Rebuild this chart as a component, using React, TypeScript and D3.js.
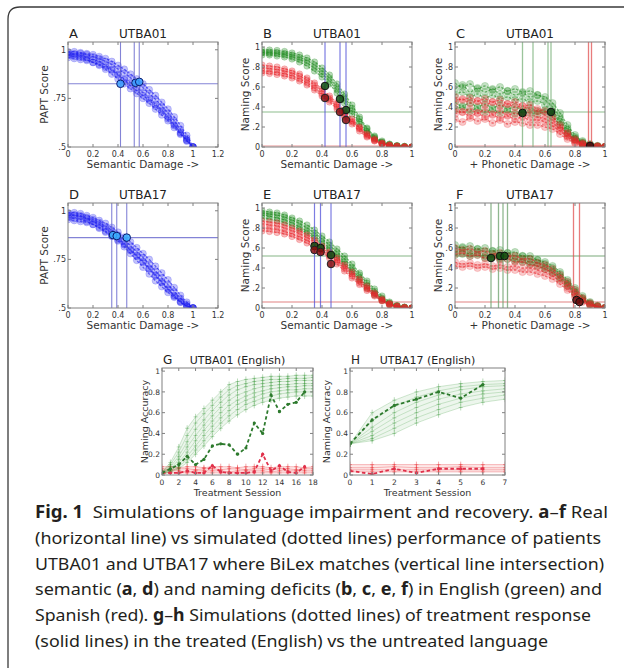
import * as d3 from "d3";
import React from "react";

// ---------- data ----------
const damage = [0, 0.05, 0.1, 0.15, 0.2, 0.25, 0.3, 0.35, 0.4, 0.45, 0.5, 0.55, 0.6, 0.65, 0.7, 0.75, 0.8, 0.85, 0.9, 0.95, 1];

// A: UTBA01 PAPT (simulated)
const paptA = [
  [0.99, 0.99, 0.985, 0.98, 0.975, 0.965, 0.955, 0.94, 0.92, 0.9, 0.875, 0.85, 0.825, 0.795, 0.765, 0.73, 0.695, 0.655, 0.61, 0.56, 0.5],
  [0.985, 0.98, 0.98, 0.975, 0.965, 0.955, 0.94, 0.925, 0.9, 0.88, 0.855, 0.83, 0.805, 0.775, 0.745, 0.71, 0.675, 0.635, 0.59, 0.545, 0.5],
  [0.975, 0.975, 0.97, 0.96, 0.95, 0.94, 0.92, 0.9, 0.875, 0.85, 0.83, 0.805, 0.78, 0.75, 0.72, 0.69, 0.655, 0.615, 0.575, 0.535, 0.5],
  [0.97, 0.965, 0.96, 0.95, 0.935, 0.92, 0.9, 0.875, 0.85, 0.825, 0.8, 0.775, 0.75, 0.725, 0.695, 0.665, 0.635, 0.6, 0.565, 0.53, 0.5],
  [0.96, 0.955, 0.95, 0.945, 0.935, 0.925, 0.91, 0.895, 0.87, 0.845, 0.815, 0.79, 0.765, 0.74, 0.71, 0.68, 0.645, 0.61, 0.57, 0.535, 0.5],
];
// D: UTBA17 PAPT (simulated)
const paptD = [
  [0.99, 0.99, 0.985, 0.975, 0.965, 0.95, 0.935, 0.915, 0.89, 0.865, 0.84, 0.81, 0.78, 0.75, 0.715, 0.68, 0.645, 0.605, 0.565, 0.53, 0.5],
  [0.985, 0.98, 0.975, 0.965, 0.955, 0.94, 0.92, 0.9, 0.875, 0.85, 0.82, 0.79, 0.76, 0.725, 0.69, 0.655, 0.62, 0.585, 0.55, 0.52, 0.5],
  [0.975, 0.975, 0.97, 0.96, 0.945, 0.93, 0.91, 0.885, 0.86, 0.83, 0.8, 0.77, 0.74, 0.705, 0.67, 0.635, 0.6, 0.565, 0.535, 0.51, 0.5],
  [0.965, 0.96, 0.955, 0.945, 0.93, 0.915, 0.895, 0.87, 0.845, 0.815, 0.78, 0.745, 0.71, 0.675, 0.64, 0.61, 0.58, 0.555, 0.53, 0.51, 0.5],
  [0.955, 0.95, 0.945, 0.94, 0.93, 0.91, 0.89, 0.87, 0.85, 0.825, 0.795, 0.765, 0.735, 0.7, 0.665, 0.63, 0.595, 0.56, 0.53, 0.51, 0.5],
];
// B: UTBA01 naming vs semantic damage
const namingBEng = [
  [0.97, 0.97, 0.965, 0.955, 0.94, 0.92, 0.89, 0.85, 0.79, 0.72, 0.63, 0.53, 0.42, 0.3, 0.19, 0.11, 0.06, 0.03, 0.015, 0.005, 0],
  [0.95, 0.95, 0.945, 0.935, 0.92, 0.895, 0.865, 0.82, 0.76, 0.69, 0.6, 0.5, 0.39, 0.28, 0.18, 0.1, 0.05, 0.025, 0.01, 0.005, 0],
  [0.94, 0.935, 0.93, 0.92, 0.9, 0.875, 0.84, 0.79, 0.73, 0.66, 0.57, 0.47, 0.36, 0.25, 0.16, 0.09, 0.045, 0.02, 0.01, 0.005, 0],
  [0.92, 0.92, 0.91, 0.9, 0.88, 0.85, 0.81, 0.76, 0.7, 0.63, 0.54, 0.44, 0.33, 0.23, 0.14, 0.08, 0.04, 0.02, 0.01, 0, 0],
];
const namingBSpa = [
  [0.82, 0.81, 0.8, 0.78, 0.76, 0.73, 0.69, 0.64, 0.58, 0.51, 0.44, 0.36, 0.28, 0.2, 0.13, 0.08, 0.04, 0.02, 0.01, 0, 0],
  [0.79, 0.785, 0.775, 0.76, 0.74, 0.71, 0.67, 0.62, 0.56, 0.49, 0.42, 0.34, 0.26, 0.19, 0.12, 0.07, 0.035, 0.015, 0.005, 0, 0],
  [0.76, 0.755, 0.745, 0.73, 0.71, 0.68, 0.64, 0.59, 0.53, 0.47, 0.4, 0.32, 0.25, 0.18, 0.11, 0.065, 0.03, 0.015, 0.005, 0, 0],
  [0.74, 0.735, 0.725, 0.71, 0.69, 0.66, 0.62, 0.57, 0.51, 0.45, 0.38, 0.3, 0.23, 0.16, 0.1, 0.06, 0.03, 0.01, 0, 0, 0],
];
// E: UTBA17 naming vs semantic damage
const namingEEng = [
  [0.97, 0.96, 0.95, 0.93, 0.9, 0.87, 0.83, 0.78, 0.72, 0.66, 0.59, 0.52, 0.44, 0.35, 0.27, 0.19, 0.12, 0.06, 0.025, 0.01, 0],
  [0.95, 0.94, 0.93, 0.91, 0.88, 0.845, 0.8, 0.75, 0.69, 0.63, 0.56, 0.49, 0.41, 0.33, 0.25, 0.17, 0.1, 0.05, 0.02, 0.005, 0],
  [0.93, 0.92, 0.9, 0.88, 0.85, 0.81, 0.77, 0.72, 0.66, 0.6, 0.53, 0.46, 0.38, 0.3, 0.22, 0.15, 0.09, 0.045, 0.02, 0.005, 0],
  [0.9, 0.89, 0.875, 0.855, 0.825, 0.79, 0.75, 0.7, 0.64, 0.58, 0.51, 0.44, 0.36, 0.28, 0.2, 0.13, 0.075, 0.035, 0.015, 0.005, 0],
];
const namingESpa = [
  [0.87, 0.86, 0.85, 0.83, 0.8, 0.77, 0.73, 0.68, 0.62, 0.56, 0.5, 0.43, 0.36, 0.29, 0.22, 0.15, 0.09, 0.045, 0.02, 0.005, 0],
  [0.84, 0.83, 0.82, 0.8, 0.775, 0.745, 0.705, 0.66, 0.6, 0.54, 0.48, 0.41, 0.34, 0.27, 0.2, 0.14, 0.08, 0.04, 0.015, 0.005, 0],
  [0.8, 0.795, 0.785, 0.765, 0.74, 0.71, 0.675, 0.63, 0.58, 0.52, 0.46, 0.39, 0.32, 0.25, 0.19, 0.13, 0.075, 0.035, 0.015, 0, 0],
  [0.77, 0.765, 0.755, 0.74, 0.715, 0.685, 0.65, 0.61, 0.56, 0.5, 0.44, 0.37, 0.3, 0.235, 0.175, 0.12, 0.07, 0.03, 0.01, 0, 0],
];
// C: UTBA01 naming vs phonetic damage
const phonCEng = [
  [0.64, 0.6, 0.63, 0.58, 0.61, 0.57, 0.6, 0.56, 0.58, 0.55, 0.56, 0.52, 0.5, 0.44, 0.34, 0.22, 0.12, 0.06, 0.03, 0.01, 0],
  [0.58, 0.62, 0.55, 0.59, 0.55, 0.58, 0.53, 0.56, 0.52, 0.54, 0.5, 0.52, 0.47, 0.4, 0.3, 0.19, 0.1, 0.05, 0.02, 0.01, 0],
  [0.52, 0.55, 0.5, 0.53, 0.49, 0.52, 0.48, 0.5, 0.47, 0.48, 0.45, 0.46, 0.42, 0.36, 0.27, 0.17, 0.09, 0.04, 0.02, 0.005, 0],
  [0.45, 0.41, 0.44, 0.4, 0.43, 0.39, 0.42, 0.38, 0.4, 0.37, 0.39, 0.36, 0.37, 0.33, 0.25, 0.15, 0.08, 0.04, 0.02, 0.005, 0],
  [0.38, 0.4, 0.36, 0.39, 0.35, 0.38, 0.34, 0.37, 0.33, 0.35, 0.34, 0.33, 0.35, 0.3, 0.22, 0.13, 0.07, 0.03, 0.01, 0, 0],
];
const phonCSpa = [
  [0.5, 0.47, 0.49, 0.46, 0.48, 0.45, 0.47, 0.43, 0.45, 0.41, 0.42, 0.38, 0.36, 0.3, 0.22, 0.14, 0.08, 0.04, 0.02, 0.01, 0],
  [0.45, 0.48, 0.44, 0.46, 0.42, 0.45, 0.41, 0.43, 0.4, 0.41, 0.37, 0.36, 0.32, 0.27, 0.2, 0.13, 0.07, 0.03, 0.015, 0.005, 0],
  [0.38, 0.35, 0.38, 0.34, 0.37, 0.33, 0.36, 0.32, 0.34, 0.31, 0.32, 0.3, 0.28, 0.24, 0.18, 0.11, 0.06, 0.03, 0.01, 0, 0],
  [0.33, 0.35, 0.31, 0.34, 0.3, 0.32, 0.29, 0.31, 0.28, 0.3, 0.27, 0.27, 0.25, 0.21, 0.16, 0.1, 0.05, 0.025, 0.01, 0, 0],
  [0.28, 0.25, 0.29, 0.26, 0.28, 0.24, 0.27, 0.23, 0.25, 0.24, 0.22, 0.22, 0.2, 0.18, 0.13, 0.08, 0.04, 0.02, 0.01, 0, 0],
];
// F: UTBA17 naming vs phonetic damage
const phonFEng = [
  [0.63, 0.6, 0.62, 0.59, 0.6, 0.57, 0.58, 0.55, 0.56, 0.52, 0.52, 0.48, 0.46, 0.42, 0.36, 0.28, 0.2, 0.12, 0.06, 0.02, 0],
  [0.59, 0.61, 0.57, 0.59, 0.56, 0.57, 0.54, 0.55, 0.52, 0.52, 0.49, 0.48, 0.44, 0.4, 0.34, 0.26, 0.18, 0.1, 0.05, 0.02, 0],
  [0.56, 0.57, 0.54, 0.55, 0.52, 0.54, 0.5, 0.52, 0.49, 0.48, 0.46, 0.45, 0.41, 0.37, 0.31, 0.24, 0.16, 0.09, 0.04, 0.015, 0],
  [0.53, 0.54, 0.52, 0.53, 0.5, 0.51, 0.49, 0.49, 0.47, 0.46, 0.44, 0.42, 0.39, 0.35, 0.29, 0.22, 0.14, 0.08, 0.04, 0.01, 0],
];
const phonFSpa = [
  [0.6, 0.58, 0.59, 0.56, 0.57, 0.54, 0.55, 0.52, 0.52, 0.49, 0.49, 0.45, 0.43, 0.39, 0.33, 0.26, 0.18, 0.1, 0.05, 0.02, 0],
  [0.54, 0.55, 0.52, 0.53, 0.5, 0.51, 0.48, 0.49, 0.46, 0.46, 0.43, 0.42, 0.39, 0.35, 0.3, 0.23, 0.15, 0.09, 0.04, 0.01, 0],
  [0.46, 0.44, 0.45, 0.43, 0.44, 0.42, 0.43, 0.41, 0.42, 0.4, 0.4, 0.38, 0.36, 0.32, 0.27, 0.2, 0.13, 0.07, 0.03, 0.01, 0],
  [0.42, 0.41, 0.42, 0.4, 0.41, 0.39, 0.4, 0.38, 0.38, 0.36, 0.36, 0.34, 0.32, 0.29, 0.24, 0.18, 0.11, 0.06, 0.03, 0.01, 0],
];

// patient levels (horizontal) and matching damage levels (vertical)
const realA = 0.825;
const matchA = [0.42, 0.53, 0.57];
const hitsA = [[0.42, 0.825], [0.54, 0.83], [0.57, 0.835]];
const realD = 0.862;
const matchD = [0.35, 0.39, 0.47];
const hitsD = [[0.36, 0.875], [0.39, 0.87], [0.47, 0.862]];

const realBEng = 0.35, realBSpa = 0.01;
const matchB = [0.42, 0.52, 0.56];
const hitsBEng = [[0.42, 0.61], [0.52, 0.48], [0.56, 0.37]];
const hitsBSpa = [[0.42, 0.49], [0.52, 0.35], [0.56, 0.27]];

const realEEng = 0.52, realESpa = 0.06;
const matchE = [0.35, 0.39, 0.46];
const hitsEEng = [[0.35, 0.62], [0.39, 0.6], [0.46, 0.53]];
const hitsESpa = [[0.35, 0.58], [0.39, 0.56], [0.46, 0.44]];

const realCEng = 0.35, realCSpa = 0.01;
const matchCEng = [0.45, 0.52, 0.62, 0.64];
const matchCSpa = [0.89, 0.91];
const hitsCEng = [[0.45, 0.34], [0.64, 0.35]];
const hitsCSpa = [[0.9, 0.01]];

const realFEng = 0.52, realFSpa = 0.06;
const matchFEng = [0.24, 0.29, 0.32, 0.35];
const matchFSpa = [0.79, 0.83];
const hitsFEng = [[0.24, 0.5], [0.3, 0.52], [0.33, 0.52]];
const hitsFSpa = [[0.81, 0.08], [0.83, 0.06]];

// G: UTBA01 treatment
const sessionsG = [0, 1, 2, 3, 4, 5, 6, 7, 8, 9, 10, 11, 12, 13, 14, 15, 16, 17, 18];
const simGEng = [
  [0.03, 0.12, 0.27, 0.45, 0.56, 0.64, 0.72, 0.8, 0.87, 0.9, 0.92, 0.93, 0.94, 0.95, 0.95, 0.95, 0.96, 0.96, 0.96],
  [0.03, 0.1, 0.22, 0.38, 0.5, 0.59, 0.67, 0.75, 0.82, 0.86, 0.88, 0.9, 0.91, 0.92, 0.92, 0.93, 0.93, 0.93, 0.94],
  [0.02, 0.08, 0.18, 0.32, 0.44, 0.53, 0.62, 0.7, 0.77, 0.82, 0.85, 0.87, 0.88, 0.89, 0.9, 0.9, 0.91, 0.91, 0.91],
  [0.02, 0.06, 0.15, 0.27, 0.38, 0.48, 0.57, 0.65, 0.72, 0.77, 0.8, 0.83, 0.85, 0.86, 0.87, 0.87, 0.88, 0.88, 0.88],
  [0.02, 0.05, 0.12, 0.22, 0.33, 0.43, 0.52, 0.6, 0.67, 0.72, 0.76, 0.79, 0.81, 0.83, 0.84, 0.85, 0.85, 0.86, 0.86],
  [0.02, 0.04, 0.1, 0.18, 0.28, 0.38, 0.47, 0.55, 0.62, 0.68, 0.72, 0.75, 0.78, 0.8, 0.81, 0.82, 0.82, 0.83, 0.83],
  [0.01, 0.03, 0.08, 0.15, 0.24, 0.33, 0.42, 0.5, 0.57, 0.63, 0.68, 0.71, 0.74, 0.76, 0.78, 0.79, 0.8, 0.8, 0.8],
  [0.01, 0.03, 0.06, 0.12, 0.2, 0.28, 0.37, 0.45, 0.52, 0.58, 0.63, 0.67, 0.7, 0.72, 0.74, 0.75, 0.76, 0.76, 0.76],
];
const simGSpa = [
  [0.08, 0.08, 0.07, 0.08, 0.08, 0.07, 0.08, 0.08, 0.08, 0.07, 0.08, 0.08, 0.08, 0.07, 0.08, 0.08, 0.08, 0.07, 0.08],
  [0.06, 0.05, 0.06, 0.06, 0.05, 0.06, 0.06, 0.05, 0.06, 0.06, 0.05, 0.06, 0.06, 0.05, 0.06, 0.06, 0.05, 0.06, 0.06],
  [0.04, 0.04, 0.04, 0.03, 0.04, 0.04, 0.04, 0.04, 0.03, 0.04, 0.04, 0.04, 0.04, 0.03, 0.04, 0.04, 0.04, 0.04, 0.04],
  [0.02, 0.02, 0.02, 0.02, 0.02, 0.02, 0.02, 0.02, 0.02, 0.02, 0.02, 0.02, 0.02, 0.02, 0.02, 0.02, 0.02, 0.02, 0.02],
];
const patientGEng = [0.02, 0.06, 0.1, 0.18, 0.1, 0.15, 0.28, 0.3, 0.29, 0.2, 0.26, 0.5, 0.4, 0.77, 0.61, 0.68, 0.7, 0.8];
const patientGSpa = [0.02, 0.02, 0.02, 0.04, 0.02, 0.02, 0.09, 0.03, 0.02, 0.02, 0.02, 0.03, 0.2, 0.04, 0.09, 0.03, 0.02, 0.08];

// H: UTBA17 treatment
const sessionsH = [0, 1, 2, 3, 4, 5, 6, 7];
const simHEng = [
  [0.3, 0.6, 0.72, 0.8, 0.85, 0.88, 0.9, 0.91],
  [0.3, 0.52, 0.66, 0.75, 0.81, 0.85, 0.87, 0.88],
  [0.3, 0.46, 0.6, 0.7, 0.77, 0.82, 0.85, 0.86],
  [0.3, 0.42, 0.55, 0.65, 0.73, 0.78, 0.81, 0.83],
  [0.3, 0.38, 0.5, 0.6, 0.68, 0.74, 0.78, 0.8],
  [0.3, 0.35, 0.45, 0.55, 0.63, 0.7, 0.74, 0.77],
  [0.3, 0.33, 0.4, 0.5, 0.58, 0.65, 0.7, 0.73],
];
const simHSpa = [
  [0.1, 0.1, 0.1, 0.1, 0.1, 0.1, 0.1, 0.1],
  [0.07, 0.07, 0.08, 0.07, 0.07, 0.08, 0.07, 0.07],
  [0.05, 0.05, 0.05, 0.05, 0.05, 0.05, 0.05, 0.05],
  [0.03, 0.03, 0.03, 0.03, 0.03, 0.03, 0.03, 0.03],
];
const patientHEng = [0.3, 0.53, 0.67, 0.73, 0.8, 0.74, 0.87];
const patientHSpa = [0.04, 0.01, 0.06, 0.02, 0.06, 0.06, 0.06];

const ticksA = [0, 0.2, 0.4, 0.6, 0.8, 1, 1.2];
const ticksB = [0, 0.2, 0.4, 0.6, 0.8, 1];
const paptTicks = [0.5, 0.75, 1];
const paptLabels = [".5", ".75", "1"];
const namingTicks = [0, 0.2, 0.4, 0.6, 0.8, 1];
const namingLabels = ["0", ".2", ".4", ".6", ".8", "1"];
const accTicks = [0, 0.2, 0.4, 0.6, 0.8, 1];
const accLabels = ["0", "0.2", "0.4", "0.6", "0.8", "1"];
const ticksG = [0, 2, 4, 6, 8, 10, 12, 14, 16, 18];
const ticksH = [0, 1, 2, 3, 4, 5, 6, 7];

const captionLines: [string, boolean][][] = [
  [["Fig. 1", true], ["  Simulations of language impairment and recovery. ", false], ["a", true], ["–", false], ["f", true], [" Real", false]],
  [["(horizontal line) vs simulated (dotted lines) performance of patients", false]],
  [["UTBA01 and UTBA17 where BiLex matches (vertical line intersection)", false]],
  [["semantic (", false], ["a", true], [", ", false], ["d", true], [") and naming deficits (", false], ["b", true], [", ", false], ["c", true], [", ", false], ["e", true], [", ", false], ["f", true], [") in English (green) and", false]],
  [["Spanish (red). ", false], ["g", true], ["–", false], ["h", true], [" Simulations (dotted lines) of treatment response", false]],
  [["(solid lines) in the treated (English) vs the untreated language", false]],
];
const captionWidths = [573, 566, 569, 567, 556, 513];

// ---------- drawing ----------
const FONT = "DejaVu Sans, sans-serif";
const BLUE = "#1c1cf0";
const GREEN = "#1f8a1f";
const RED = "#e8262b";
const AXIS = "#808080";

type Scale = d3.ScaleLinear<number, number>;

interface AxesProps {
  id: string;
  left: number;
  top: number;
  width: number;
  height: number;
  xDomain: [number, number];
  yDomain: [number, number];
  xTicks: number[];
  xFmt: (v: number) => string;
  yTicks: number[];
  yLabels: string[];
  letter: string;
  title: string;
  xLabel: string;
  yLabel: string;
  yLabelGap: number;
  tickFont?: number;
  labelFont?: number;
  titleFont?: number;
  children: (x: Scale, y: Scale) => React.ReactNode;
}

function Axes(p: AxesProps) {
  const x = d3.scaleLinear().domain(p.xDomain).range([p.left, p.left + p.width]);
  const y = d3.scaleLinear().domain(p.yDomain).range([p.top + p.height, p.top]);
  const tf = p.tickFont ?? 8;
  const lf = p.labelFont ?? 10.5;
  const ttf = p.titleFont ?? 12;
  const bottom = p.top + p.height;
  const right = p.left + p.width;
  const tl = 3;
  const midY = p.top + p.height / 2;
  return (
    <g fontFamily={FONT}>
      <clipPath id={p.id}>
        <rect x={p.left} y={p.top} width={p.width} height={p.height} />
      </clipPath>
      <g clipPath={`url(#${p.id})`}>{p.children(x, y)}</g>
      <rect x={p.left} y={p.top} width={p.width} height={p.height} fill="none" stroke={AXIS} strokeWidth={1} />
      {p.xTicks.map((t) => (
        <g key={"x" + t}>
          <line x1={x(t)} x2={x(t)} y1={bottom} y2={bottom - tl} stroke={AXIS} />
          <line x1={x(t)} x2={x(t)} y1={p.top} y2={p.top + tl} stroke={AXIS} />
          <text x={x(t)} y={bottom + tf + 2} fontSize={tf} textAnchor="middle" fill="#333">
            {p.xFmt(t)}
          </text>
        </g>
      ))}
      {p.yTicks.map((t, i) => (
        <g key={"y" + t}>
          <line x1={p.left} x2={p.left + tl} y1={y(t)} y2={y(t)} stroke={AXIS} />
          <line x1={right} x2={right - tl} y1={y(t)} y2={y(t)} stroke={AXIS} />
          <text x={p.left - 2} y={y(t)} dy="0.35em" fontSize={tf} textAnchor="end" fill="#333">
            {p.yLabels[i]}
          </text>
        </g>
      ))}
      <text x={p.left + 1} y={p.top - 4} fontSize={ttf + 1} fill="#222">
        {p.letter}
      </text>
      <text x={(p.left + right) / 2} y={p.top - 4} fontSize={ttf} textAnchor="middle" fill="#222">
        {p.title}
      </text>
      <text x={(p.left + right) / 2} y={bottom + 21} fontSize={lf} textAnchor="middle" fill="#333">
        {p.xLabel}
      </text>
      <text
        transform={`translate(${p.left - p.yLabelGap},${midY}) rotate(-90)`}
        fontSize={lf}
        textAnchor="middle"
        dy="0.35em"
        fill="#333"
      >
        {p.yLabel}
      </text>
    </g>
  );
}

function Cloud({ rows, xs, x, y, color, r, op }: { rows: number[][]; xs: number[]; x: Scale; y: Scale; color: string; r: number; op: number }) {
  const line = d3
    .line<number>()
    .x((_, i) => x(xs[i]))
    .y((d) => y(d))
    .curve(d3.curveMonotoneX);
  return (
    <g>
      {rows.map((row, k) => (
        <g key={k}>
          <path d={line(row) ?? ""} fill="none" stroke={color} strokeOpacity={0.6} strokeWidth={1.3} strokeDasharray="2.5 1.5" />
          {row.map((v, i) => (
            <circle
              key={i}
              cx={x(xs[i])}
              cy={y(v)}
              r={r}
              fill={color}
              fillOpacity={op}
              stroke={color}
              strokeOpacity={op * 1.3}
              strokeWidth={0.6}
            />
          ))}
        </g>
      ))}
    </g>
  );
}

function Guides({ vs, h, x, y, color, width = 1.1, op = 0.75 }: { vs: number[]; h: number | null; x: Scale; y: Scale; color: string; width?: number; op?: number }) {
  const [y0, y1] = y.range();
  const [x0, x1] = x.range();
  return (
    <g stroke={color} strokeWidth={width} strokeOpacity={op}>
      {vs.map((v, i) => (
        <line key={i} x1={x(v)} x2={x(v)} y1={y0} y2={y1} />
      ))}
      {h !== null && <line x1={x0} x2={x1} y1={y(h)} y2={y(h)} />}
    </g>
  );
}

function Hits({ pts, x, y, fill, stroke }: { pts: number[][]; x: Scale; y: Scale; fill: string; stroke: string }) {
  return (
    <g>
      {pts.map((p, i) => (
        <circle key={i} cx={x(p[0])} cy={y(p[1])} r={3.8} fill={fill} fillOpacity={0.85} stroke={stroke} strokeWidth={1} />
      ))}
    </g>
  );
}

function Sims({ rows, xs, x, y, color, op, shade }: { rows: number[][]; xs: number[]; x: Scale; y: Scale; color: string; op: number; shade: number }) {
  const line = d3
    .line<number>()
    .x((_, i) => x(xs[i]))
    .y((d) => y(d));
  const top = rows[0];
  const low = rows[rows.length - 1];
  const area = d3
    .area<number>()
    .x((_, i) => x(xs[i]))
    .y0((_, i) => y(low[i]))
    .y1((d) => y(d));
  return (
    <g>
      <path d={area(top) ?? ""} fill={color} fillOpacity={shade} />
      {rows.map((row, k) => (
        <g key={k}>
          <path d={line(row) ?? ""} fill="none" stroke={color} strokeOpacity={op} strokeWidth={1} />
          {row.map((v, i) => (
            <path
              key={i}
              d={`M${x(xs[i]) - 2},${y(v)}H${x(xs[i]) + 2}M${x(xs[i])},${y(v) - 3}V${y(v) + 3}`}
              stroke={color}
              strokeOpacity={op + 0.15}
              strokeWidth={0.9}
            />
          ))}
        </g>
      ))}
    </g>
  );
}

function Patient({ vals, xs, x, y, color }: { vals: number[]; xs: number[]; x: Scale; y: Scale; color: string }) {
  const line = d3
    .line<number>()
    .x((_, i) => x(xs[i]))
    .y((d) => y(d));
  return (
    <g>
      <path d={line(vals) ?? ""} fill="none" stroke={color} strokeWidth={1.8} strokeDasharray="3.5 2.5" />
      {vals.map((v, i) => (
        <circle key={i} cx={x(xs[i])} cy={y(v)} r={1.6} fill={color} />
      ))}
    </g>
  );
}

const fmtDec = (v: number) => (v === 0 ? "0" : v === 1 ? "1" : d3.format(".1f")(v));
const fmtInt = (v: number) => String(v);

export default function App() {
  const top1 = 42;
  const top2 = 203;
  const w = 150;
  const h = 105;
  const cols = [68, 262, 455];
  return (
    <svg width={632} height={668} style={{ position: "absolute", left: 0, top: 0, background: "#fff" }}>
      <rect width={632} height={668} fill="#fff" />
      <path d="M8,670 V19 Q8,7 20,7 H624" fill="none" stroke="#3a3a3a" strokeWidth={1.3} />

      {/* A */}
      <Axes id="cA" left={cols[0]} top={top1} width={w} height={h} xDomain={[0, 1.2]} yDomain={[0.5, 1.04]} xTicks={ticksA} xFmt={fmtDec}
        yTicks={paptTicks} yLabels={paptLabels} letter="A" title="UTBA01" xLabel="Semantic Damage ->" yLabel="PAPT Score" yLabelGap={24}>
        {(x, y) => (
          <g>
            <Cloud rows={paptA} xs={damage} x={x} y={y} color={BLUE} r={3.4} op={0.26} />
            <Guides vs={matchA} h={realA} x={x} y={y} color="#5a5ac8" />
            <Hits pts={hitsA} x={x} y={y} fill="#3aa0ff" stroke="#0a1a70" />
          </g>
        )}
      </Axes>

      {/* B */}
      <Axes id="cB" left={cols[1]} top={top1} width={w} height={h} xDomain={[0, 1]} yDomain={[0, 1.05]} xTicks={ticksB} xFmt={fmtDec}
        yTicks={namingTicks} yLabels={namingLabels} letter="B" title="UTBA01" xLabel="Semantic Damage ->" yLabel="Naming Score" yLabelGap={17}>
        {(x, y) => (
          <g>
            <Guides vs={[]} h={realBEng} x={x} y={y} color="#6aa86a" />
            <Guides vs={[]} h={realBSpa} x={x} y={y} color="#e07070" />
            <Cloud rows={namingBEng} xs={damage} x={x} y={y} color={GREEN} r={3.2} op={0.3} />
            <Cloud rows={namingBSpa} xs={damage} x={x} y={y} color={RED} r={3.2} op={0.3} />
            <Guides vs={matchB} h={null} x={x} y={y} color="#5050d8" width={1.2} />
            <Hits pts={hitsBEng} x={x} y={y} fill="#0d4d0d" stroke="#111" />
            <Hits pts={hitsBSpa} x={x} y={y} fill="#8a0e0e" stroke="#222" />
          </g>
        )}
      </Axes>

      {/* C */}
      <Axes id="cC" left={cols[2]} top={top1} width={w} height={h} xDomain={[0, 1]} yDomain={[0, 1.05]} xTicks={ticksB} xFmt={fmtDec}
        yTicks={namingTicks} yLabels={namingLabels} letter="C" title="UTBA01" xLabel="+ Phonetic Damage ->" yLabel="Naming Score" yLabelGap={17}>
        {(x, y) => (
          <g>
            <Guides vs={[]} h={realCEng} x={x} y={y} color="#6aa86a" />
            <Guides vs={[]} h={realCSpa} x={x} y={y} color="#e07070" />
            <Cloud rows={phonCEng} xs={damage} x={x} y={y} color={GREEN} r={3.6} op={0.26} />
            <Cloud rows={phonCSpa} xs={damage} x={x} y={y} color={RED} r={3.6} op={0.26} />
            <Guides vs={matchCEng} h={null} x={x} y={y} color="#7ab07a" width={1.3} />
            <Guides vs={matchCSpa} h={null} x={x} y={y} color="#e05050" width={1.3} />
            <Hits pts={hitsCEng} x={x} y={y} fill="#0d3d0d" stroke="#111" />
            <Hits pts={hitsCSpa} x={x} y={y} fill="#3a0a0a" stroke="#111" />
          </g>
        )}
      </Axes>

      {/* D */}
      <Axes id="cD" left={cols[0]} top={top2} width={w} height={h} xDomain={[0, 1.2]} yDomain={[0.5, 1.04]} xTicks={ticksA} xFmt={fmtDec}
        yTicks={paptTicks} yLabels={paptLabels} letter="D" title="UTBA17" xLabel="Semantic Damage ->" yLabel="PAPT Score" yLabelGap={24}>
        {(x, y) => (
          <g>
            <Cloud rows={paptD} xs={damage} x={x} y={y} color={BLUE} r={3.4} op={0.26} />
            <Guides vs={matchD} h={realD} x={x} y={y} color="#5a5ac8" />
            <Hits pts={hitsD} x={x} y={y} fill="#3ab0ff" stroke="#0a1a70" />
          </g>
        )}
      </Axes>

      {/* E */}
      <Axes id="cE" left={cols[1]} top={top2} width={w} height={h} xDomain={[0, 1]} yDomain={[0, 1.05]} xTicks={ticksB} xFmt={fmtDec}
        yTicks={namingTicks} yLabels={namingLabels} letter="E" title="UTBA17" xLabel="Semantic Damage ->" yLabel="Naming Score" yLabelGap={17}>
        {(x, y) => (
          <g>
            <Guides vs={[]} h={realEEng} x={x} y={y} color="#5f9f5f" />
            <Guides vs={[]} h={realESpa} x={x} y={y} color="#d85a5a" />
            <Cloud rows={namingEEng} xs={damage} x={x} y={y} color={GREEN} r={3.2} op={0.3} />
            <Cloud rows={namingESpa} xs={damage} x={x} y={y} color={RED} r={3.2} op={0.3} />
            <Guides vs={matchE} h={null} x={x} y={y} color="#5050d8" width={1.2} />
            <Hits pts={hitsEEng} x={x} y={y} fill="#0d4d0d" stroke="#111" />
            <Hits pts={hitsESpa} x={x} y={y} fill="#8a0e0e" stroke="#222" />
          </g>
        )}
      </Axes>

      {/* F */}
      <Axes id="cF" left={cols[2]} top={top2} width={w} height={h} xDomain={[0, 1]} yDomain={[0, 1.05]} xTicks={ticksB} xFmt={fmtDec}
        yTicks={namingTicks} yLabels={namingLabels} letter="F" title="UTBA17" xLabel="+ Phonetic Damage ->" yLabel="Naming Score" yLabelGap={17}>
        {(x, y) => (
          <g>
            <Guides vs={[]} h={realFEng} x={x} y={y} color="#4f8f4f" />
            <Guides vs={[]} h={realFSpa} x={x} y={y} color="#d85a5a" />
            <Cloud rows={phonFEng} xs={damage} x={x} y={y} color={GREEN} r={3.6} op={0.28} />
            <Cloud rows={phonFSpa} xs={damage} x={x} y={y} color={RED} r={3.6} op={0.24} />
            <Guides vs={matchFEng} h={null} x={x} y={y} color="#6aa06a" width={1.3} />
            <Guides vs={matchFSpa} h={null} x={x} y={y} color="#e05050" width={1.3} />
            <Hits pts={hitsFEng} x={x} y={y} fill="#0d4d0d" stroke="#111" />
            <Hits pts={hitsFSpa} x={x} y={y} fill="#6a0a0a" stroke="#111" />
          </g>
        )}
      </Axes>

      {/* G */}
      <Axes id="cG" left={162} top={368} width={151} height={107} xDomain={[0, 18]} yDomain={[0, 1.03]} xTicks={ticksG} xFmt={fmtInt}
        yTicks={accTicks} yLabels={accLabels} letter="G" title="UTBA01 (English)" xLabel="Treatment Session" yLabel="Naming Accuracy"
        yLabelGap={17} tickFont={7.5} labelFont={9.5} titleFont={11}>
        {(x, y) => (
          <g>
            <Sims rows={simGSpa} xs={sessionsG} x={x} y={y} color={RED} op={0.3} shade={0.1} />
            <Sims rows={simGEng} xs={sessionsG} x={x} y={y} color={GREEN} op={0.2} shade={0.08} />
            <Patient vals={patientGSpa} xs={sessionsG} x={x} y={y} color="#e0304a" />
            <Patient vals={patientGEng} xs={sessionsG} x={x} y={y} color="#2d7a2d" />
          </g>
        )}
      </Axes>

      {/* H */}
      <Axes id="cH" left={350} top={368} width={155} height={107} xDomain={[0, 7]} yDomain={[0, 1.03]} xTicks={ticksH} xFmt={fmtInt}
        yTicks={accTicks} yLabels={accLabels} letter="H" title="UTBA17 (English)" xLabel="Treatment Session" yLabel="Naming Accuracy"
        yLabelGap={23} tickFont={7.5} labelFont={9.5} titleFont={11}>
        {(x, y) => (
          <g>
            <Sims rows={simHSpa} xs={sessionsH} x={x} y={y} color={RED} op={0.3} shade={0.1} />
            <Sims rows={simHEng} xs={sessionsH} x={x} y={y} color={GREEN} op={0.2} shade={0.08} />
            <Patient vals={patientHSpa} xs={sessionsH} x={x} y={y} color="#e0304a" />
            <Patient vals={patientHEng} xs={sessionsH} x={x} y={y} color="#2d7a2d" />
          </g>
        )}
      </Axes>

      {/* caption */}
      <g fontFamily="'Noto Sans', 'Open Sans', sans-serif" fontSize={17} fill="#231f20">
        {captionLines.map((segs, i) => (
          <text key={i} x={35} y={518 + i * 25.8} textLength={captionWidths[i]} lengthAdjust="spacingAndGlyphs" style={{ whiteSpace: "pre" }}>
            {segs.map(([t, b], j) => (
              <tspan key={j} fontWeight={b ? 700 : 400}>
                {t}
              </tspan>
            ))}
          </text>
        ))}
      </g>
    </svg>
  );
}
